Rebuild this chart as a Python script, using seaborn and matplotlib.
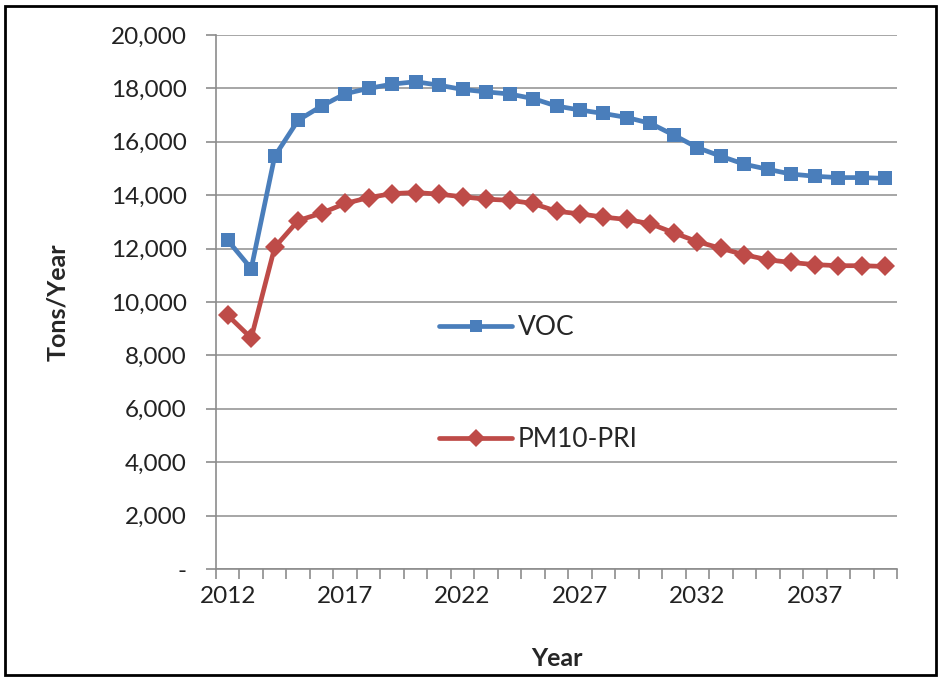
import numpy as np
import pandas as pd
import matplotlib
matplotlib.use("Agg")
import matplotlib.pyplot as plt
import seaborn as sns
from matplotlib.ticker import FuncFormatter, MultipleLocator
from matplotlib.patches import Rectangle

# data
years = list(range(2012, 2041))
voc = [12310, 11250, 15460, 16810, 17340, 17800, 18000, 18160, 18250, 18120,
       17960, 17870, 17790, 17620, 17340, 17190, 17060, 16910, 16690, 16250,
       15780, 15460, 15160, 14970, 14790, 14710, 14660, 14660, 14630]
pm10 = [9500, 8650, 12050, 13050, 13330, 13690, 13910, 14060, 14100, 14040,
        13940, 13850, 13810, 13690, 13400, 13300, 13180, 13090, 12930, 12590,
        12260, 12010, 11770, 11580, 11480, 11400, 11360, 11360, 11330]
series_names = ["VOC", "PM10-PRI"]
colors = {"VOC": "#4A7EBB", "PM10-PRI": "#BE4B48"}

df = pd.DataFrame({"Year": years, "VOC": voc, "PM10-PRI": pm10})
long_df = df.melt(id_vars="Year", var_name="Series", value_name="Tons")

sns.set_style("white")
plt.rcParams["font.family"] = ["Lato", "DejaVu Sans"]

fig = plt.figure(figsize=(9.41, 6.81), dpi=100)
ax = fig.add_axes([216 / 941, 1 - 569 / 681, (897 - 216) / 941, (569 - 35) / 681])

sns.lineplot(data=long_df, x="Year", y="Tons", hue="Series", style="Series",
             hue_order=series_names, style_order=series_names,
             palette=colors, markers={"VOC": "s", "PM10-PRI": "D"},
             dashes=False, linewidth=3.4, markersize=10.5, markeredgewidth=0,
             ax=ax)

ax.set_xlim(2011.5, 2040.5)
ax.set_ylim(0, 20000)
ax.set_xticks(list(range(2012, 2041, 5)))
ax.set_xticks(np.arange(2011.5, 2041, 1), minor=True)
ax.yaxis.set_major_locator(MultipleLocator(2000))
ax.yaxis.set_major_formatter(FuncFormatter(lambda v, p: "-" if v == 0 else f"{v:,.0f}"))

ax.grid(axis="y", color="#A6A6A6", linewidth=1.4)
ax.set_axisbelow(True)
for side in ["top", "right"]:
    ax.spines[side].set_visible(False)
for side in ["left", "bottom"]:
    ax.spines[side].set_color("#8C8C8C")
    ax.spines[side].set_linewidth(1.2)

ax.tick_params(axis="x", which="major", length=0, pad=12, labelsize=17.5, colors="#222222")
ax.tick_params(axis="x", which="minor", length=7, width=1.2, color="#8C8C8C", bottom=True)
ax.tick_params(axis="y", which="major", length=7, width=1.2, color="#8C8C8C", left=True,
               labelsize=17.5, labelcolor="#222222", pad=14)

ax.set_xlabel("Year", fontsize=18, fontweight="bold")
ax.set_ylabel("Tons/Year", fontsize=18, fontweight="bold")
ax.xaxis.set_label_coords(0.5, -0.146)
ax.yaxis.set_label_coords(-0.215, 0.5)

handles, labels = ax.get_legend_handles_labels()
ax.legend(handles, labels, loc="center left", bbox_to_anchor=(0.292, 0.347),
          frameon=False, fontsize=19, labelspacing=3.3, handlelength=2.8,
          handletextpad=0.2, markerscale=0.85)

fig.patches.append(Rectangle((5 / 941, 6 / 681), 931 / 941, 669 / 681,
                             transform=fig.transFigure, fill=False,
                             edgecolor="black", linewidth=2))

fig.savefig("out.png", dpi=100)
